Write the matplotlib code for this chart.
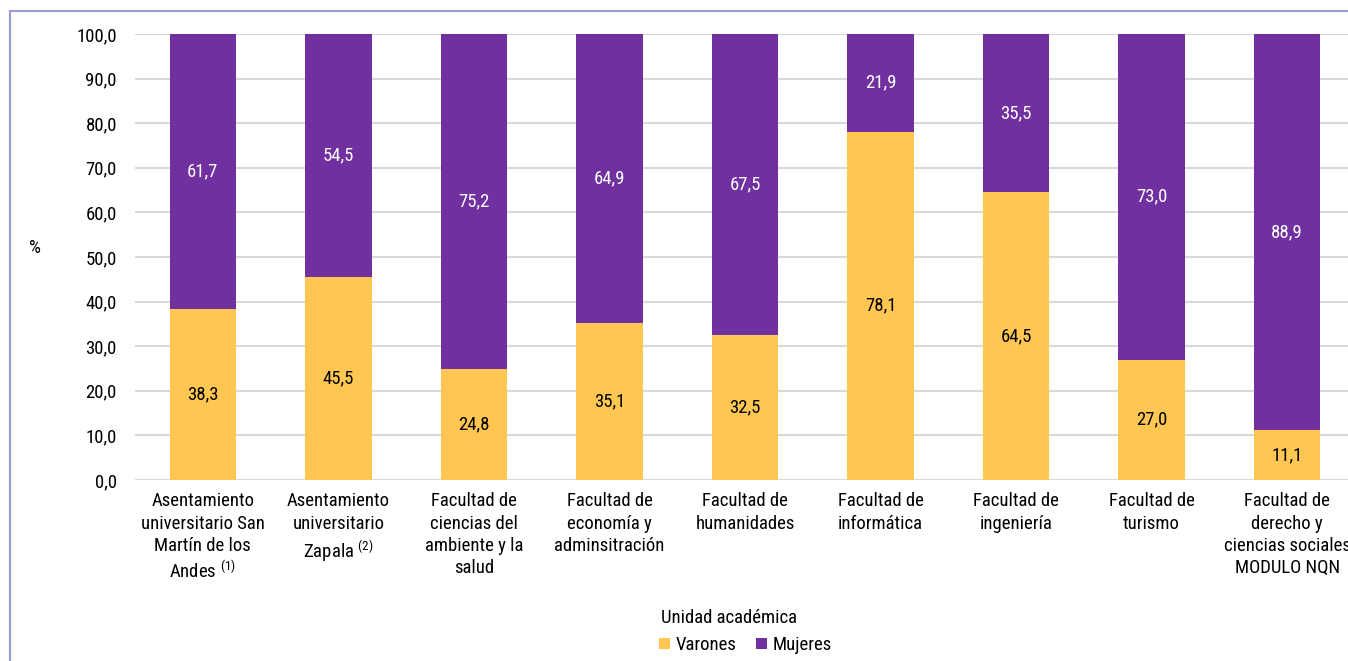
import numpy as np
import matplotlib.pyplot as plt
from matplotlib.patches import Rectangle

plt.rcParams['font.family'] = ['Roboto Condensed', 'DejaVu Sans']
plt.rcParams['mathtext.fontset'] = 'custom'
plt.rcParams['mathtext.rm'] = 'Roboto Condensed'
plt.rcParams['mathtext.it'] = 'Roboto Condensed'

categories = [
    'Asentamiento\nuniversitario San\nMartín de los\nAndes $^{(1)}$',
    'Asentamiento\nuniversitario\nZapala $^{(2)}$',
    'Facultad de\nciencias del\nambiente y la\nsalud',
    'Facultad de\neconomía y\nadminsitración',
    'Facultad de\nhumanidades',
    'Facultad de\ninformática',
    'Facultad de\ningeniería',
    'Facultad de\nturismo',
    'Facultad de\nderecho y\nciencias sociales\nMODULO NQN',
]
varones = [38.3, 45.5, 24.8, 35.1, 32.5, 78.1, 64.5, 27.0, 11.1]
mujeres = [61.7, 54.5, 75.2, 64.9, 67.5, 21.9, 35.5, 73.0, 88.9]

c_var = '#FFC752'
c_muj = '#7030A0'
fs = 13.5

fig = plt.figure(figsize=(13.48, 6.61), dpi=100)
ax = fig.add_axes([135 / 1348, 1 - 480 / 661, 1220 / 1348, 446 / 661])

x = np.arange(len(categories))
w = 0.49
ax.bar(x, varones, w, color=c_var, label='Varones', zorder=3)
ax.bar(x, mujeres, w, bottom=varones, color=c_muj, label='Mujeres', zorder=3)

fmt = lambda v: f'{v:.1f}'.replace('.', ',')
for i in range(len(x)):
    ax.text(x[i], varones[i] / 2, fmt(varones[i]), ha='center', va='center',
            fontsize=fs, color='black', zorder=4)
    ax.text(x[i], varones[i] + mujeres[i] / 2, fmt(mujeres[i]), ha='center',
            va='center', fontsize=fs, color='white', zorder=4)

ax.set_xlim(-0.5, len(x) - 0.5)
ax.set_ylim(0, 100)
ax.set_yticks(np.arange(0, 101, 10))
ax.set_yticklabels([fmt(v) for v in np.arange(0, 101, 10)], fontsize=fs)
ax.set_xticks(x)
ax.set_xticklabels(categories, fontsize=fs, linespacing=1.3, va='top')
ax.tick_params(axis='both', length=0)
ax.tick_params(axis='y', pad=13)
ax.tick_params(axis='x', pad=9)
ax.grid(axis='y', color='#D9D9D9', linewidth=1.5, zorder=0)
for s in ax.spines.values():
    s.set_visible(False)

ax.set_ylabel('%', fontsize=fs, rotation=0)
ax.yaxis.set_label_coords(-0.082, 0.50)
ax.set_xlabel('Unidad académica', fontsize=fs)
ax.xaxis.set_label_coords(0.487, -0.29)

fig.legend(loc='center', bbox_to_anchor=(0.553, 0.024), ncol=2, frameon=False,
           fontsize=fs, handlelength=0.6, handleheight=0.6, handletextpad=0.3,
           columnspacing=1.0)

fig.patches.append(Rectangle((10 / 1348, -0.1), 1.2, 1 - 11 / 661 + 0.1,
                             transform=fig.transFigure, fill=False,
                             edgecolor='#9A9AD6', linewidth=1.5))

plt.savefig('out.png')
